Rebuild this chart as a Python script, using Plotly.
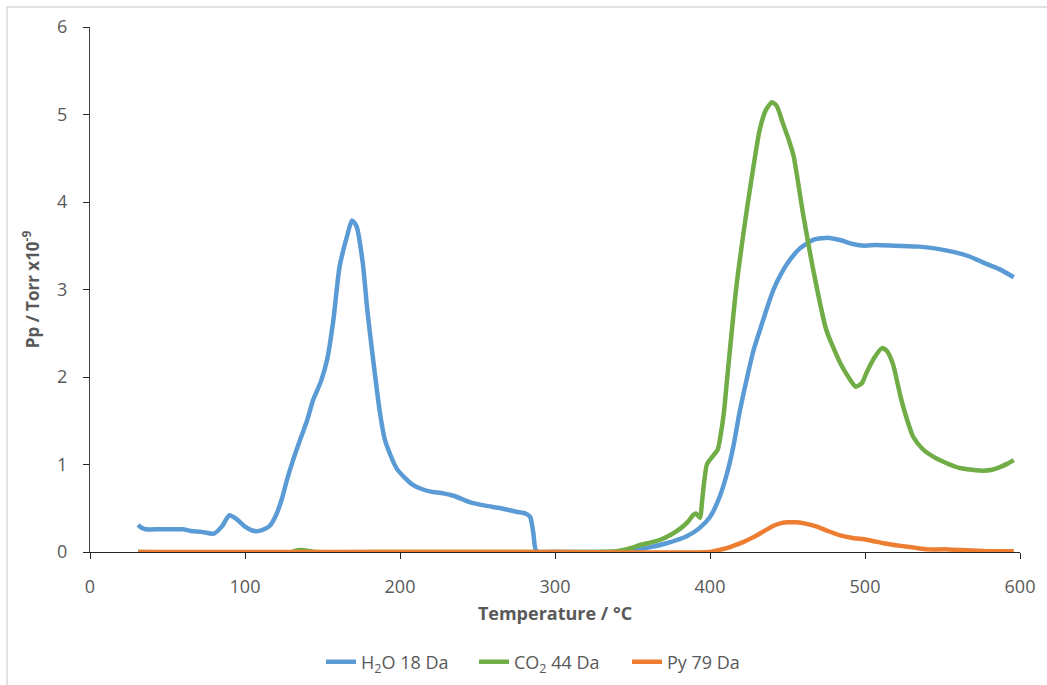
import plotly.graph_objects as go

# Temperature-programmed desorption: partial pressures vs temperature
h2o_t = [31, 33, 36, 45, 55, 60, 65, 72, 80, 85, 90, 95, 100, 106, 111, 116, 120, 124, 127,
         131, 135.5, 140, 144, 149, 153, 157, 161, 166, 169, 172, 176, 179, 183, 187, 190,
         194, 198, 203, 208, 214, 220, 228, 235, 245, 255, 265, 275, 281, 284, 286, 288,
         300, 320, 340, 350, 360, 372, 385, 393, 400, 406, 411, 415, 419, 424, 428, 433,
         437, 441, 445, 450, 458, 467, 477, 485, 492, 500, 507, 520, 535, 545, 557, 567,
         576, 587, 596]
h2o_p = [0.31, 0.28, 0.26, 0.26, 0.26, 0.26, 0.24, 0.23, 0.21, 0.29, 0.42, 0.37, 0.29, 0.24,
         0.25, 0.30, 0.42, 0.62, 0.82, 1.05, 1.28, 1.50, 1.74, 1.95, 2.20, 2.65, 3.26, 3.62,
         3.79, 3.72, 3.30, 2.75, 2.15, 1.60, 1.30, 1.10, 0.95, 0.85, 0.77, 0.72, 0.69, 0.67,
         0.64, 0.57, 0.53, 0.50, 0.46, 0.44, 0.40, 0.22, 0.01, 0.0, 0.0, 0.0, 0.02, 0.05,
         0.10, 0.18, 0.27, 0.40, 0.62, 0.90, 1.20, 1.59, 2.00, 2.30, 2.58, 2.80, 3.00, 3.15,
         3.30, 3.47, 3.57, 3.59, 3.56, 3.52, 3.50, 3.51, 3.50, 3.49, 3.47, 3.43, 3.38, 3.31,
         3.23, 3.14]

co2_t = [31, 130, 134, 138, 142, 146, 200, 300, 340, 348, 355, 362, 368, 375, 381, 386, 389,
         391, 393.5, 395, 398, 402, 405, 407, 409, 411, 417, 424, 428, 432, 436, 440, 443,
         447, 451, 454, 460, 467, 475, 484, 490, 494, 498, 501, 506, 511, 514, 518, 523, 527,
         531, 537, 544, 552, 561, 569, 576, 582, 587, 592, 596]
co2_p = [0.0, 0.0, 0.02, 0.02, 0.01, 0.0, 0.0, 0.0, 0.01, 0.04, 0.08, 0.11, 0.14, 0.20, 0.27,
         0.35, 0.42, 0.44, 0.39, 0.60, 1.00, 1.10, 1.17, 1.35, 1.60, 1.97, 3.03, 3.94, 4.40,
         4.82, 5.05, 5.14, 5.10, 4.90, 4.70, 4.52, 3.87, 3.19, 2.54, 2.16, 1.98, 1.89, 1.93,
         2.05, 2.22, 2.33, 2.30, 2.15, 1.77, 1.52, 1.32, 1.18, 1.09, 1.02, 0.96, 0.94, 0.93,
         0.94, 0.97, 1.01, 1.05]

py_t = [31, 100, 200, 300, 400, 405, 410, 415, 421, 428, 434, 441, 446, 450, 455, 460, 469,
        476, 484, 492, 501, 512, 523, 532, 540, 553, 566, 580, 596]
py_p = [0.0, 0.0, 0.0, 0.0, 0.0, 0.02, 0.04, 0.07, 0.11, 0.17, 0.23, 0.30, 0.33, 0.34, 0.34,
        0.33, 0.29, 0.24, 0.19, 0.16, 0.14, 0.10, 0.07, 0.05, 0.03, 0.03, 0.02, 0.01, 0.01]

series = [
    ("H<sub>2</sub>O 18 Da", h2o_t, h2o_p, "#5B9BD5"),
    ("CO<sub>2</sub> 44 Da", co2_t, co2_p, "#70AD47"),
    ("Py 79 Da", py_t, py_p, "#ED7D31"),
]

FONT = "Open Sans"
GREY = "#595959"

fig = go.Figure()
for name, t, p, col in series:
    fig.add_trace(go.Scatter(x=t, y=p, mode="lines", name=name,
                             line=dict(color=col, width=4.5, shape="spline",
                                       smoothing=0.6)))

W, H = 1047, 685
L, R, T, B = 90, 27, 27, 133
pw, ph = W - L - R, H - T - B

def px_x(v):
    return (v - L) / pw

def px_y(v):
    return (H - B - v) / ph

fig.update_layout(
    width=W, height=H,
    margin=dict(l=L, r=R, t=T, b=B, autoexpand=False),
    paper_bgcolor="white", plot_bgcolor="white",
    font=dict(family=FONT, color=GREY, size=18),
    showlegend=True,
    legend=dict(orientation="h", x=px_x(321), xanchor="left", y=px_y(662),
                yanchor="middle", font=dict(family=FONT, size=18, color=GREY),
                itemwidth=30, tracegroupgap=0, entrywidth=108,
                entrywidthmode="pixels"),
    xaxis=dict(range=[0, 600], tickvals=[0, 100, 200, 300, 400, 500, 600],
               showgrid=False, zeroline=False, showline=True, linecolor="#262626",
               linewidth=1.3, ticks="outside", ticklen=6, tickcolor="#262626",
               tickfont=dict(size=18, color=GREY), ticklabelstandoff=12,
               title=dict(text="<b>Temperature / °C</b>", font=dict(size=18, color=GREY),
                          standoff=10)),
    yaxis=dict(range=[0, 6], tickvals=[0, 1, 2, 3, 4, 5, 6],
               showgrid=False, zeroline=False, showline=True, linecolor="#404040",
               linewidth=1.3, ticks="outside", ticklen=6, tickcolor="#262626",
               tickfont=dict(size=18, color=GREY), ticklabelstandoff=12,
               title=dict(text="<b>Pp / Torr x10<sup>-9</sup></b>",
                          font=dict(size=17, color=GREY), standoff=13)),
    shapes=[dict(type="rect", xref="paper", yref="paper",
                 x0=px_x(7), x1=px_x(1060), y0=px_y(700), y1=px_y(7),
                 line=dict(color="#D9D9D9", width=1.5), fillcolor="rgba(0,0,0,0)",
                 layer="below")],
)

fig.write_html("out.html")
